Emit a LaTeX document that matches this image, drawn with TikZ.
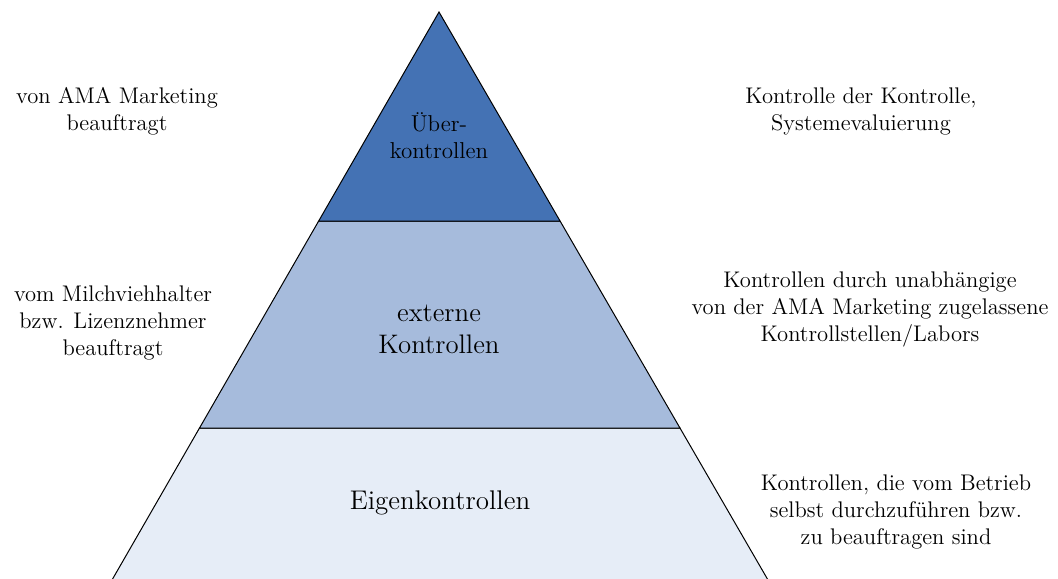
\documentclass[tikz,border=0pt]{standalone}
\usetikzlibrary{calc}
\definecolor{tierTop}{RGB}{68,114,180}
\definecolor{tierMid}{RGB}{166,187,220}
\definecolor{tierLow}{RGB}{230,237,247}
\tikzset{
  tier/.style={draw=black,line width=0.5pt},
  sidetext/.style={align=center,inner sep=0pt,font=\fontsize{11.3}{13.5}\selectfont},
  tiertext/.style={align=center,inner sep=0pt}
}
\begin{document}
\begin{tikzpicture}[x=0.5pt,y=-0.5pt]
\useasboundingbox (0,0) rectangle (1058,578);
\coordinate (apex) at (439,12);
\coordinate (bl) at (112,580);
\coordinate (br) at (768,580);
\coordinate (l1) at ($(apex)!0.368!(bl)$);
\coordinate (r1) at ($(apex)!0.368!(br)$);
\coordinate (l2) at ($(apex)!0.7324!(bl)$);
\coordinate (r2) at ($(apex)!0.7324!(br)$);
\filldraw[tier,fill=tierLow] (l2) -- (r2) -- (br) -- (bl) -- cycle;
\filldraw[tier,fill=tierMid] (l1) -- (r1) -- (r2) -- (l2) -- cycle;
\filldraw[tier,fill=tierTop] (apex) -- (r1) -- (l1) -- cycle;
\node[tiertext,font=\fontsize{11.5}{13.5}\selectfont] (ueber) at (439,136) {Über-\\kontrollen};
\node[tiertext,font=\fontsize{13.4}{16}\selectfont] (extern) at (439,329) {externe\\Kontrollen};
\node[tiertext,font=\fontsize{13.5}{16}\selectfont] (eigen) at (440,503) {Eigenkontrollen};
\node[sidetext] (amaL) at (117,111) {von AMA Marketing\\beauftragt};
\node[sidetext] (milchL) at (113,323) {vom Milchviehhalter\\bzw. Lizenznehmer\\beauftragt};
\node[sidetext] (kontrR) at (861,111) {Kontrolle der Kontrolle,\\Systemevaluierung};
\node[sidetext] (laborR) at (870,309) {Kontrollen durch unabhängige\\von der AMA Marketing zugelassene\\Kontrollstellen/Labors};
\node[sidetext] (betriebR) at (896,512) {Kontrollen, die vom Betrieb\\selbst durchzuführen bzw.\\zu beauftragen sind};
\end{tikzpicture}
\end{document}
